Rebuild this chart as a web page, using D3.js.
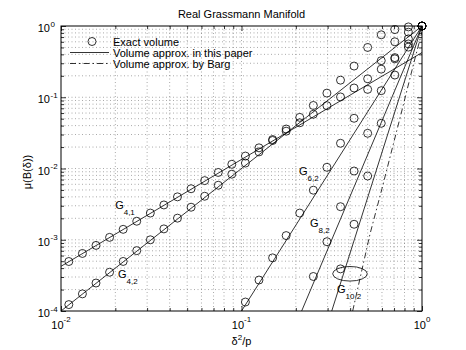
<!DOCTYPE html>
<html><head><meta charset="utf-8">
<script src="https://cdn.jsdelivr.net/npm/d3@7"></script>
<style>
body{margin:0;background:#fff}
text,tspan{font-family:"Liberation Sans",Arial,Helvetica,sans-serif;fill:#000}
</style>
</head><body>
<svg id="chart" width="466" height="350"></svg>
<script>
// ---- data ----
const xGrid = [1,0.8409,0.7071,0.5946,0.5,0.4204,0.3536,0.2973,0.25,0.2102,0.1768,0.1487,0.125,0.1051,
  0.08839,0.07433,0.0625,0.05256,0.04419,0.03716,0.03125,0.02628,0.0221,0.01858,0.01563,0.01314,0.01105];
const exactG41 = [1,0.506,0.346,0.248,0.1817,0.1349,0.1010,0.0762,0.0577,0.0438,0.0334,0.0255,0.0195,0.01495,
  0.01146,0.0088,0.00676,0.0052,0.004,0.00308,0.00237,0.00182,0.0014,0.00108,0.000833,0.000642,0.000495];
const exactG42 = [1,0.971,0.890,0.752,0.5,0.274,0.1737,0.1143,0.0767,0.0522,0.0358,0.0247,0.0171,0.01192,
  0.00832,0.00582,0.00408,0.00286,0.00201,0.00142,0.000998,0.000703,0.000496,0.00035,0.000247,0.000174,0.000123];
const exactG62 = [1,0.82,0.60,0.326,0.129,0.0507,0.0226,0.0104,0.00496,0.00237,0.001144,0.000557,0.000272,0.0001336];
const exactG82 = [1,0.66,0.36,0.1236,0.0312,0.00922,0.00291,0.000939,0.000305];
const exactG102 = [1,0.56,0.205,0.0431,0.00785,0.00165,0.00039];

const approxG41X = [0.01,1],   approxG41Y = [0.000424,0.424];
const approxG42X = [0.01,1],   approxG42Y = [0.0001,1];
const approxG62X = [0.1,1],    approxG62Y = [0.0001,1];
const approxG82X = [0.2154,1], approxG82Y = [0.0001,1];
const approxG102X = [0.3162,1],approxG102Y = [0.0001,1];
const bargX = [0.413,0.515,0.6,0.765,0.9,1];
const bargY = [0.0001,0.0012,0.0052,0.058,0.30,0.83];

const xMajor = [0.01,0.1,1], xMajorExp = ["-2","-1","0"];
const yMajor = [1e-4,1e-3,1e-2,1e-1,1], yMajorExp = ["-4","-3","-2","-1","0"];
const legendLabels = ["Exact volume","Volume approx. in this paper","Volume approx. by Barg"];
const curveLabels = [
  {base:"G", sub:"4,1", x:0.01995, y:0.0027},
  {base:"G", sub:"4,2", x:0.0207, y:0.000295},
  {base:"G", sub:"6,2", x:0.2083, y:0.0081},
  {base:"G", sub:"8,2", x:0.2395, y:0.00151},
  {base:"G", sub:"10,2", x:0.338, y:0.000179}
];
const ellipseAt = [0.399, 0.000333];

// ---- drawing ----
const svg = d3.select("#chart");
const L=61,R=422,T=26,B=311;
const x = d3.scaleLog().domain([0.01,1]).range([L,R]);
const y = d3.scaleLog().domain([1e-4,1]).range([B,T]);

const xAll=[],yAll=[];
for(let e=-2;e<0;e++) for(let m=1;m<10;m++) xAll.push(m*Math.pow(10,e));
xAll.push(1);
for(let e=-4;e<0;e++) for(let m=1;m<10;m++) yAll.push(m*Math.pow(10,e));
yAll.push(1);
const xMinor = xAll.filter(v=>!xMajor.some(m=>Math.abs(m-v)/v<1e-6));
const yMinor = yAll.filter(v=>!yMajor.some(m=>Math.abs(m-v)/v<1e-6));

// grid
const grid = svg.append("g").attr("stroke","#555").attr("stroke-width",0.5).attr("stroke-dasharray","1,2.5");
grid.selectAll(".gx").data(xAll.filter(v=>v>0.01&&v<1)).enter().append("line")
  .attr("x1",d=>x(d)).attr("x2",d=>x(d)).attr("y1",T).attr("y2",B);
grid.selectAll(".gy").data(yAll.filter(v=>v>1e-4&&v<1)).enter().append("line")
  .attr("x1",L).attr("x2",R).attr("y1",d=>y(d)).attr("y2",d=>y(d));

// axes ticks (inward)
function ticks(axisFn, scale, vals, size, tx, ty){
  const g = svg.append("g").attr("transform",`translate(${tx},${ty})`)
    .call(axisFn(scale).tickValues(vals).tickSizeInner(-size).tickSizeOuter(0).tickFormat(""));
  g.select(".domain").remove();
  g.selectAll("line").attr("stroke","#000").attr("stroke-width",0.8);
}
ticks(d3.axisBottom,x,xMajor,5,0,B); ticks(d3.axisBottom,x,xMinor,3,0,B);
ticks(d3.axisTop,x,xMajor,5,0,T);    ticks(d3.axisTop,x,xMinor,3,0,T);
ticks(d3.axisLeft,y,yMajor,5,L,0);   ticks(d3.axisLeft,y,yMinor,3,L,0);
ticks(d3.axisRight,y,yMajor,5,R,0);  ticks(d3.axisRight,y,yMinor,3,R,0);

svg.append("rect").attr("x",L).attr("y",T).attr("width",R-L).attr("height",B-T)
  .attr("fill","none").attr("stroke","#000").attr("stroke-width",1);

// tick labels
xMajor.forEach((v,i)=>{
  const t = svg.append("text").attr("x",x(v)).attr("y",328.5).attr("text-anchor","middle").attr("font-size",11);
  t.append("tspan").text("10");
  t.append("tspan").attr("dy",-6.5).attr("font-size",8).text(xMajorExp[i]);
});
yMajor.forEach((v,i)=>{
  svg.append("text").attr("x",50).attr("y",y(v)+6).attr("text-anchor","end").attr("font-size",11).text("10");
  svg.append("text").attr("x",50.5).attr("y",y(v)+0.5).attr("font-size",8).text(yMajorExp[i]);
});

// title & axis labels
svg.append("text").attr("x",241.5).attr("y",17.5).attr("text-anchor","middle").attr("font-size",11).text("Real Grassmann Manifold");
const xl = svg.append("text").attr("x",241.5).attr("y",345).attr("text-anchor","middle").attr("font-size",11);
xl.append("tspan").text("δ");
xl.append("tspan").attr("dy",-5).attr("font-size",8).text("2");
xl.append("tspan").attr("dy",5).text("/p");
svg.append("text").attr("transform","translate(31,172) rotate(-90)").attr("text-anchor","middle").attr("font-size",11).text("μ(B(δ))");

// clip
svg.append("clipPath").attr("id","clip").append("rect").attr("x",L).attr("y",T).attr("width",R-L).attr("height",B-T);
const plot = svg.append("g").attr("clip-path","url(#clip)");

const line = d3.line().x(d=>x(d[0])).y(d=>y(d[1]));
const approx = [[approxG41X,approxG41Y],[approxG42X,approxG42Y],[approxG62X,approxG62Y],[approxG82X,approxG82Y],[approxG102X,approxG102Y]];
approx.forEach(([xs,ys])=>{
  plot.append("path").attr("d",line(xs.map((v,i)=>[v,ys[i]]))).attr("fill","none").attr("stroke","#000").attr("stroke-width",0.8);
});
plot.append("path").attr("d",line(bargX.map((v,i)=>[v,bargY[i]]))).attr("fill","none")
  .attr("stroke","#000").attr("stroke-width",0.8).attr("stroke-dasharray","6,3,1.5,3");

const marks = svg.append("g");
[exactG41,exactG42,exactG62,exactG82,exactG102].forEach(ys=>{
  marks.selectAll(null).data(ys.map((v,i)=>[xGrid[i],v])).enter().append("circle")
    .attr("cx",d=>x(d[0])).attr("cy",d=>y(d[1])).attr("r",4)
    .attr("fill","none").attr("stroke","#000").attr("stroke-width",0.8);
});

// ellipse highlight
svg.append("ellipse").attr("cx",x(ellipseAt[0])).attr("cy",y(ellipseAt[1])).attr("rx",17.3).attr("ry",7.3)
  .attr("fill","none").attr("stroke","#000").attr("stroke-width",0.8);

// curve labels
curveLabels.forEach(c=>{
  const t = svg.append("text").attr("x",x(c.x)).attr("y",y(c.y)).attr("font-size",11).attr("fill","#000");
  t.append("tspan").attr("fill","#000").text(c.base);
  t.append("tspan").attr("dy",6).attr("font-size",8).attr("fill","#000").text(c.sub);
});

// legend
const lg = svg.append("g");
lg.append("circle").attr("cx",92).attr("cy",41.5).attr("r",4).attr("fill","none").attr("stroke","#000").attr("stroke-width",0.8);
lg.append("line").attr("x1",70).attr("x2",109).attr("y1",52.5).attr("y2",52.5).attr("stroke","#000").attr("stroke-width",0.8);
lg.append("line").attr("x1",70).attr("x2",109).attr("y1",63.5).attr("y2",63.5).attr("stroke","#000").attr("stroke-width",0.8).attr("stroke-dasharray","6,3,1.5,3");
legendLabels.forEach((s,i)=>{
  lg.append("text").attr("x",113).attr("y",45.5+11*i).attr("font-size",11).text(s);
});
</script>
</body></html>
